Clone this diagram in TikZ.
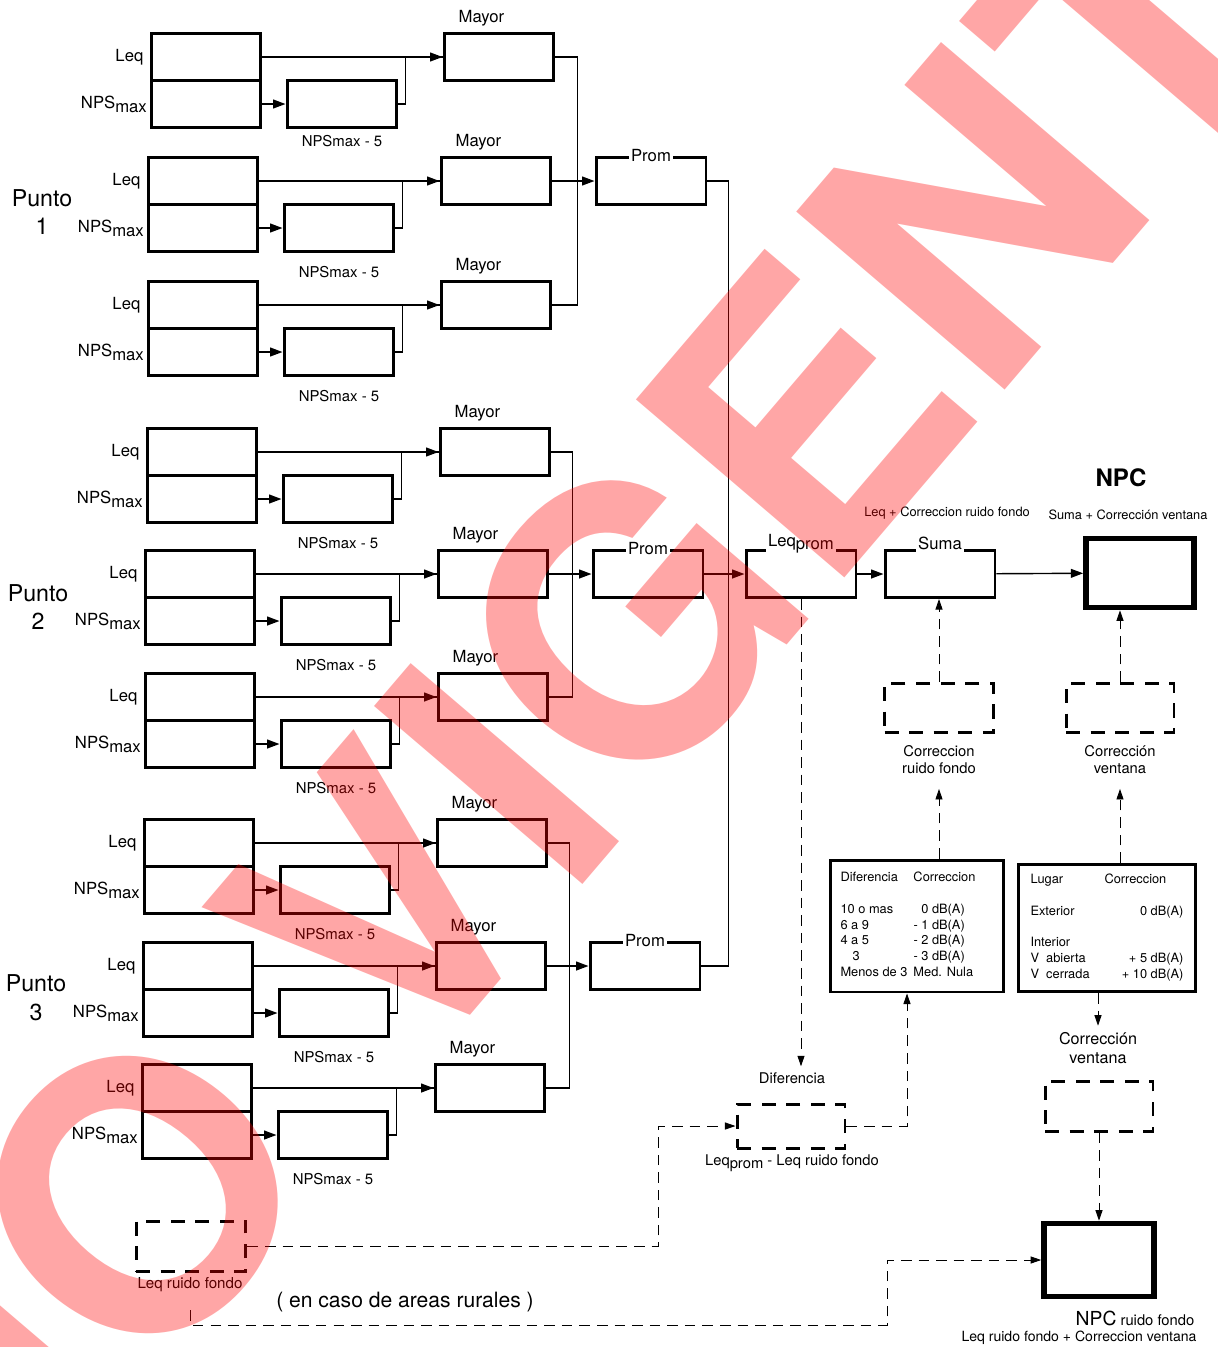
\documentclass[tikz,border=0pt]{standalone}
\usepackage{fontspec}
\setmainfont{TeX Gyre Heros}
\usepackage{array}
\usetikzlibrary{arrows.meta, positioning, calc}
\tikzset{
  box/.style    = {rectangle, draw, line width=1.7pt, minimum width=2.2cm,
                   minimum height=0.94cm, inner sep=0pt},
  dbox/.style   = {box, dash pattern=on 8pt off 6pt},
  npcbox/.style = {box, line width=3.2pt, minimum width=2.16cm, minimum height=1.38cm},
  tabbox/.style = {rectangle, draw, line width=1.7pt, font=\fontsize{7.3}{9}\selectfont},
  lbl/.style    = {font=\fontsize{9.5}{11}\selectfont},
  lblsm/.style  = {font=\fontsize{8.5}{10}\selectfont},
  lblmd/.style  = {font=\fontsize{8.4}{9.8}\selectfont, align=center},
  note/.style   = {font=\fontsize{7.3}{9}\selectfont},
  punto/.style  = {font=\fontsize{13.2}{16.4}\selectfont, align=center},
  tag/.style    = {lbl, fill=white, inner sep=1pt},
  leqin/.style  = {box, label={[lbl]left:Leq}},
  npsin/.style  = {box, label={[lbl, xshift=2pt]left:NPS\raisebox{-0.45ex}{max}}},
  minus5/.style = {box, label={[lblsm, yshift=-4pt]below:NPSmax - 5}},
  mayor/.style  = {box, label={[lbl, xshift=-10pt]above:Mayor}},
  line/.style   = {line width=0.8pt},
  arrow/.style  = {line width=0.8pt, -{Triangle[length=7pt, width=5pt]}},
  dashline/.style  = {line width=0.5pt, dash pattern=on 6pt off 4pt},
  dasharrow/.style = {dashline, -{Triangle[length=6pt, width=4pt]}},
}

\begin{document}
\begin{tikzpicture}[x=0.02cm, y=-0.02cm]
    \useasboundingbox (0,0) rectangle (1218,1347);

    %% ===================== PUNTO 1 =====================
    \node[punto] (p1) at (42,212) {Punto\\1};

    \node[leqin]  (leq1) at (206,57)  {};
    \node[npsin]  (nps1) at (206,104) {};
    \node[box, label={[lblsm]below:NPSmax - 5}] (red1) at (342,104) {};
    \node[mayor]  (may1) at (499,57)  {};
    \draw[arrow] (leq1) -- (may1);
    \draw[arrow] (nps1) -- (red1);
    \draw[line]  (red1.east) -- ++(7,0) |- (may1.west);

    \node[leqin]  (leq2) at (203,181) {};
    \node[npsin]  (nps2) at (203,228) {};
    \node[minus5] (red2) at (339,228) {};
    \node[mayor]  (may2) at (496,181) {};
    \draw[arrow] (leq2) -- (may2);
    \draw[arrow] (nps2) -- (red2);
    \draw[line]  (red2.east) -- ++(7,0) |- (may2.west);

    \node[leqin]  (leq3) at (203,305) {};
    \node[npsin]  (nps3) at (203,352) {};
    \node[minus5] (red3) at (339,352) {};
    \node[mayor]  (may3) at (496,305) {};
    \draw[arrow] (leq3) -- (may3);
    \draw[arrow] (nps3) -- (red3);
    \draw[line]  (red3.east) -- ++(7,0) |- (may3.west);

    \node[box] (prom1) at (651,181) {};
    \node[tag] (prom1t) at (prom1.north) {Prom};
    \draw[line]  (may1.east) -- ++(22,0) |- (may3.east);
    \draw[arrow] (may2) -- (prom1);

    %% ===================== PUNTO 2 =====================
    \node[punto] (p2) at (38,607) {Punto\\2};

    \node[leqin]  (leq4) at (202,452) {};
    \node[npsin]  (nps4) at (202,499) {};
    \node[minus5] (red4) at (338,499) {};
    \node[mayor]  (may4) at (495,452) {};
    \draw[arrow] (leq4) -- (may4);
    \draw[arrow] (nps4) -- (red4);
    \draw[line]  (red4.east) -- ++(7,0) |- (may4.west);

    \node[leqin]  (leq5) at (200,574) {};
    \node[npsin]  (nps5) at (200,621) {};
    \node[minus5] (red5) at (336,621) {};
    \node[mayor]  (may5) at (493,574) {};
    \draw[arrow] (leq5) -- (may5);
    \draw[arrow] (nps5) -- (red5);
    \draw[line]  (red5.east) -- ++(7,0) |- (may5.west);

    \node[leqin]  (leq6) at (200,697) {};
    \node[npsin]  (nps6) at (200,744) {};
    \node[minus5] (red6) at (336,744) {};
    \node[mayor]  (may6) at (493,697) {};
    \draw[arrow] (leq6) -- (may6);
    \draw[arrow] (nps6) -- (red6);
    \draw[line]  (red6.east) -- ++(7,0) |- (may6.west);

    \node[box] (prom2) at (648,574) {};
    \node[tag] (prom2t) at (prom2.north) {Prom};
    \draw[line]  (may4.east) -- ++(21,0) |- (may6.east);
    \draw[arrow] (may5) -- (prom2);

    %% ===================== PUNTO 3 =====================
    \node[punto] (p3) at (36,998) {Punto\\3};

    \node[leqin]  (leq7) at (199,843)  {};
    \node[npsin]  (nps7) at (199,890)  {};
    \node[minus5] (red7) at (335,890)  {};
    \node[mayor]  (may7) at (492,843)  {};
    \draw[arrow] (leq7) -- (may7);
    \draw[arrow] (nps7) -- (red7);
    \draw[line]  (red7.east) -- ++(7,0) |- (may7.west);

    \node[leqin]  (leq8) at (198,966)  {};
    \node[npsin]  (nps8) at (198,1013) {};
    \node[minus5] (red8) at (334,1013) {};
    \node[mayor]  (may8) at (491,966)  {};
    \draw[arrow] (leq8) -- (may8);
    \draw[arrow] (nps8) -- (red8);
    \draw[line]  (red8.east) -- ++(7,0) |- (may8.west);

    \node[leqin]  (leq9) at (197,1088) {};
    \node[npsin]  (nps9) at (197,1135) {};
    \node[minus5] (red9) at (333,1135) {};
    \node[mayor]  (may9) at (490,1088) {};
    \draw[arrow] (leq9) -- (may9);
    \draw[arrow] (nps9) -- (red9);
    \draw[line]  (red9.east) -- ++(7,0) |- (may9.west);

    \node[box] (prom3) at (645,966) {};
    \node[tag] (prom3t) at (prom3.north) {Prom};
    \draw[line]  (may7.east) -- ++(21,0) |- (may9.east);
    \draw[arrow] (may8) -- (prom3);

    %% ===================== LEQ PROM, SUMA, NPC =====================
    \draw[line]  (prom1.east) -- ++(21,0) |- (prom3.east);

    \node[box] (leqprom) at (801,574) {};
    \node[tag, yshift=3pt] (leqpromt) at (leqprom.north) {Leq\raisebox{-0.45ex}{prom}};
    \node[box] (suma) at (940,574) {};
    \node[tag, yshift=3pt] (sumat) at (suma.north) {Suma};
    \node[npcbox] (npc) at (1140,573) {};

    \node[font=\fontsize{13.7}{15}\selectfont\bfseries] (npct) at (1121,478) {NPC};
    \node[note] (sumanote) at (947,513) {Leq + Correccion ruido fondo};
    \node[note] (npcnote)  at (1128,515) {Suma + Corrección ventana};

    \draw[arrow] (prom2)   -- (leqprom);
    \draw[arrow] (leqprom) -- (suma);
    \draw[arrow] (suma)    -- (npc);

    %% ===================== CORRECCIONES =====================
    \node[dbox, minimum width=2.18cm, minimum height=0.98cm] (crf) at (939,708) {};
    \node[lblmd, below=3pt of crf] (crfl) {Correccion\\ruido fondo};
    \node[dbox, minimum width=2.16cm, minimum height=0.98cm] (cv1) at (1120,708) {};
    \node[lblmd, below=3pt of cv1] (cvl) {Corrección\\ventana};

    \draw[dasharrow] (crf.north) -- (crf.north |- suma.south);
    \draw[dasharrow] (cv1.north) -- (cv1.north |- npc.south);

    \node[tabbox, inner xsep=0.2cm, minimum height=2.64cm] (tab1) at (917,926) {%
      \begin{tabular}{@{}p{1.46cm}@{}p{1.6cm}@{}}
        Diferencia & Correccion \\
        & \\
        10 o mas & \hphantom{-\ }0 dB(A) \\
        6 a 9 & -\ 1 dB(A) \\
        4 a 5 & -\ 2 dB(A) \\
        \hspace{0.24cm}3 & -\ 3 dB(A) \\
        Menos de 3 & Med. Nula
      \end{tabular}};
    \node[tabbox, inner xsep=0.24cm, minimum height=2.54cm] (tab2) at (1107,928) {%
      \begin{tabular}{@{}p{1.48cm}@{}>{\raggedleft\arraybackslash}p{1.58cm}@{}}
        Lugar & \multicolumn{1}{@{}l@{}}{Correccion} \\
        & \\
        Exterior & 0 dB(A) \\
        & \\
        Interior & \\
        V\ \ abierta & + 5 dB(A) \\
        V\ \ cerrada & + 10 dB(A)
      \end{tabular}};

    \draw[dasharrow, shorten >=5pt] (tab1.north -| crfl) -- (crfl.south);
    \draw[dasharrow, shorten >=5pt] (tab2.north -| cvl)  -- (cvl.south);

    %% ===================== DIFERENCIA =====================
    \node[lblmd] (difl) at (792,1078) {Diferencia};
    \node[dbox, minimum width=2.16cm, minimum height=0.88cm] (dif) at (791,1126) {};
    \node[lblmd] (difnote) at (792,1163) {Leq\raisebox{-0.45ex}{prom} - Leq ruido fondo};

    \draw[dasharrow] (leqprom.south) -- (leqprom.south |- difl.north);
    \draw[dasharrow] (dif.east) -| ($(tab1.south)+(-10,0)$);

    %% ===================== RUIDO FONDO =====================
    \node[font=\fontsize{9.2}{11.3}\selectfont, align=center] (cv2l) at (1098,1048) {Corrección\\ventana};
    \node[dbox, minimum width=2.16cm, minimum height=1.0cm] (cv2) at (1099,1106) {};
    \node[npcbox, minimum width=2.2cm, minimum height=1.46cm] (npc2) at (1099,1260) {};
    \node[lblmd] (npc2t) at (1135,1318) {{\fontsize{11}{13}\selectfont NPC} ruido fondo};
    \node[font=\fontsize{8}{10}\selectfont] (npc2note) at (1079,1338) {Leq ruido fondo + Correccion ventana};

    \draw[dasharrow] (tab2.south -| cv2l) -- (cv2l.north);
    \draw[dasharrow] (cv2) -- (npc2);

    \node[dbox, minimum width=2.2cm, minimum height=1.0cm] (lrf) at (191,1246) {};
    \node[font=\fontsize{8.6}{10}\selectfont] (lrfl) at (190,1285) {Leq ruido fondo};
    \node[font=\fontsize{12}{14}\selectfont] (rural) at (405,1302) {( en caso de areas rurales )};
    \coordinate (ruralc) at (887,1325);

    \draw[dasharrow] (lrf.east) -- ++(411,0) |- (dif.west);
    \draw[dasharrow] (lrfl.south) ++(0,12) |- (ruralc) |- (npc2.west);

    %% ===================== SELLO =====================
    \begin{scope}
      \clip (0,0) rectangle (1218,1347);
      \node[font=\fontsize{214}{214}\selectfont\bfseries, text=red, text opacity=0.35,
            rotate=49.5, inner sep=0pt] (sello) at (618,632) {NO VIGENTE};
    \end{scope}

\end{tikzpicture}
\end{document}
